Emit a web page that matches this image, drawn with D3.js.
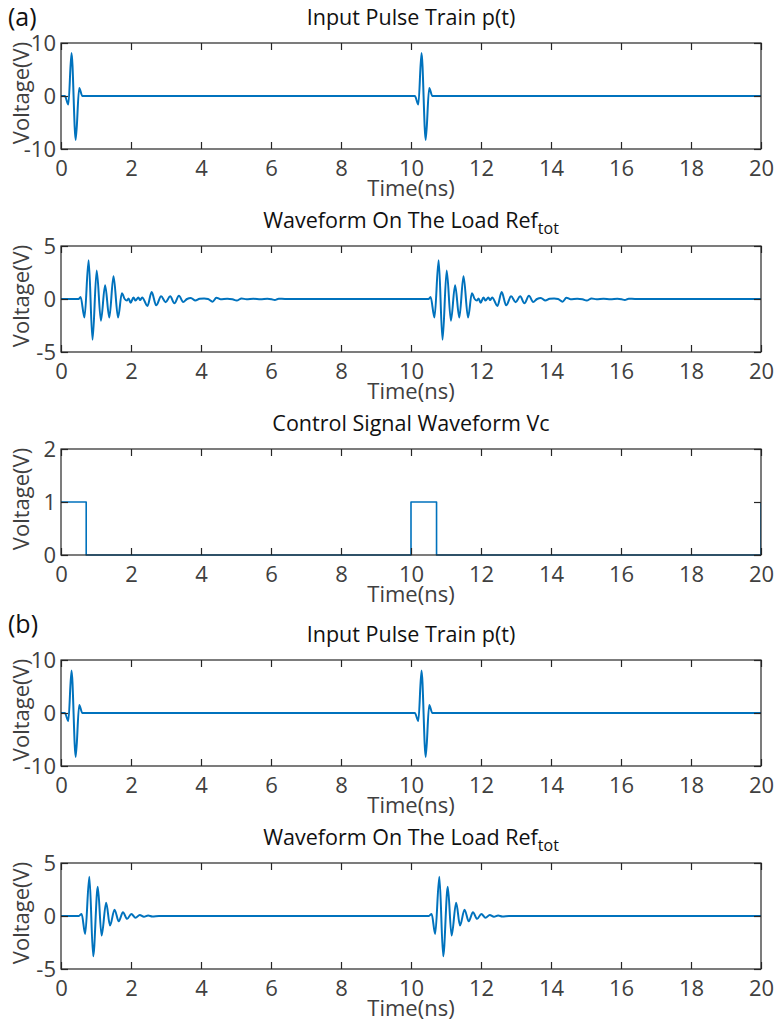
<!DOCTYPE html>
<html><head><meta charset="utf-8">
<script src="https://cdn.jsdelivr.net/npm/d3@7"></script>
<style>body{margin:0;background:#fff} svg{display:block} text{font-family:"Open Sans",sans-serif}</style>
</head><body><svg id="c" width="777" height="1027"></svg>
<script>
// ---------- data ----------
const xTickValues = [0,2,4,6,8,10,12,14,16,18,20];
const yTicksPulse = [-10,0,10];
const yTicksLoad = [-5,0,5];
const yTicksCtrl = [0,1,2];

// (a) input pulse train
const pulseA_t = [0,0.11,0.21,0.30,0.42,0.52,0.61, 10.11,10.21,10.30,10.42,10.52,10.61, 20];
const pulseA_v = [0,0,-1.6,8.1,-8.3,1.5,0, 0,-1.6,8.1,-8.3,1.5,0, 0];

// (a) waveform on the load
const loadA_t = [0,0.50,0.56,0.67,0.79,0.90,1.02,1.14,1.26,1.38,1.50,1.63,1.74,1.82,1.88,1.93,1.99,2.07,2.13,2.21,2.26,2.32,2.47,2.59,2.72,2.86,2.99,3.12,3.24,3.37,3.49,3.60,3.71,3.84,3.96,4.09,4.20,4.33,4.44,4.56,4.75,4.90,5.02,5.16,5.30,5.50,5.70,5.90,6.02,6.11,6.22,6.40,6.83,
  10.50,10.56,10.67,10.79,10.90,11.02,11.14,11.26,11.38,11.50,11.63,11.74,11.82,11.88,11.93,11.99,12.07,12.13,12.21,12.26,12.32,12.47,12.59,12.72,12.86,12.99,13.12,13.24,13.37,13.49,13.60,13.71,13.84,13.96,14.09,14.20,14.33,14.44,14.56,14.75,14.90,15.02,15.16,15.30,15.50,15.70,15.90,16.02,16.11,16.22,16.40,16.83,20];
const loadA_v = [0,0,0.2,-1.75,3.65,-3.85,2.7,-2.05,1.3,-1.75,2.15,-1.75,0.55,0.0,-0.15,0.05,-0.35,0.15,-0.15,0.15,-0.1,0.15,-0.65,0.65,-0.6,0.25,-0.3,0.25,-0.4,0.3,-0.28,0.0,0.1,-0.15,0.02,0.05,0.0,-0.25,0.12,-0.02,0.02,-0.03,-0.15,0.05,-0.03,0.02,-0.02,0.02,-0.03,-0.1,0.03,0,0,
  0,0.2,-1.75,3.65,-3.85,2.7,-2.05,1.3,-1.75,2.15,-1.75,0.55,0.0,-0.15,0.05,-0.35,0.15,-0.15,0.15,-0.1,0.15,-0.65,0.65,-0.6,0.25,-0.3,0.25,-0.4,0.3,-0.28,0.0,0.1,-0.15,0.02,0.05,0.0,-0.25,0.12,-0.02,0.02,-0.03,-0.15,0.05,-0.03,0.02,-0.02,0.02,-0.03,-0.1,0.03,0,0,0];

// (a) control signal
const ctrl_t = [0,0.72,0.72,10.0,10.0,10.73,10.73,20,20];
const ctrl_v = [1,1,0,0,1,1,0,0,1];

// (b) input pulse train
const pulseB_t = [0,0.11,0.21,0.30,0.42,0.52,0.61, 10.11,10.21,10.30,10.42,10.52,10.61, 20];
const pulseB_v = [0,0,-1.5,8.0,-8.3,1.5,0, 0,-1.5,8.0,-8.3,1.5,0, 0];

// (b) waveform on the load
const loadB_t = [0,0.51,0.59,0.69,0.81,0.92,1.05,1.16,1.29,1.40,1.53,1.65,1.77,1.89,2.01,2.13,2.25,2.37,2.49,2.61,2.80,
  10.51,10.59,10.69,10.81,10.92,11.05,11.16,11.29,11.40,11.53,11.65,11.77,11.89,12.01,12.13,12.25,12.37,12.49,12.61,12.80,20];
const loadB_v = [0,0,0.2,-1.7,3.7,-3.8,2.75,-1.85,1.25,-0.9,0.6,-0.5,0.35,-0.27,0.2,-0.17,0.1,-0.08,0.05,-0.04,0,
  0,0.2,-1.7,3.7,-3.8,2.75,-1.85,1.25,-0.9,0.6,-0.5,0.35,-0.27,0.2,-0.17,0.1,-0.08,0.05,-0.04,0,0];

const titles = ["Input Pulse Train p(t)", "Waveform On The Load Ref", "Control Signal Waveform Vc", "Input Pulse Train p(t)", "Waveform On The Load Ref"];
const titleSubs = ["", "tot", "", "", "tot"];
const xLabel = "Time(ns)";
const yLabel = "Voltage(V)";
const panelLetters = ["(a)", "(b)"];

// ---------- layout ----------
const svg = d3.select("#c");
const L = 61, R = 761, PH = 106;
const tops = [43, 246, 449, 660, 863];
const panels = [
  {t: pulseA_t, v: pulseA_v, dom: [-10,10], ticks: yTicksPulse, curve: d3.curveMonotoneX, w: 2},
  {t: loadA_t, v: loadA_v, dom: [-5,5], ticks: yTicksLoad, curve: d3.curveMonotoneX, w: 2},
  {t: ctrl_t, v: ctrl_v, dom: [0,2], ticks: yTicksCtrl, curve: d3.curveLinear, w: 1.6},
  {t: pulseB_t, v: pulseB_v, dom: [-10,10], ticks: yTicksPulse, curve: d3.curveMonotoneX, w: 2},
  {t: loadB_t, v: loadB_v, dom: [-5,5], ticks: yTicksLoad, curve: d3.curveMonotoneX, w: 2}
];
const axisCol = "#262626", tickCol = "#404040", lineCol = "#0072BD";
const fmt = d => String(d);

panels.forEach((p, i) => {
  const top = tops[i], bot = top + PH;
  const x = d3.scaleLinear().domain([0,20]).range([L,R]);
  const y = d3.scaleLinear().domain(p.dom).range([bot, top]);
  const g = svg.append("g");

  g.append("clipPath").attr("id","clip"+i).append("rect")
    .attr("x", L).attr("y", top-1).attr("width", R-L).attr("height", PH+2);

  const data = p.t.map((t,k)=>({t, v: p.v[k]}));
  g.append("path").datum(data)
    .attr("clip-path", `url(#clip${i})`)
    .attr("fill","none").attr("stroke", lineCol).attr("stroke-width", p.w)
    .attr("stroke-linejoin","round")
    .attr("d", d3.line().x(d=>x(d.t)).y(d=>y(d.v)).curve(p.curve));

  const ax = (sel)=>{ sel.attr("font-family", null).attr("font-size", null);
    sel.selectAll("text").attr("fill", tickCol).style("font-size","22px");
    sel.select(".domain").remove();
    sel.selectAll("line").attr("stroke", axisCol).attr("stroke-width",1.2); };
  g.append("g").attr("transform",`translate(0,${bot})`)
    .call(d3.axisBottom(x).tickValues(xTickValues).tickFormat(fmt).tickSizeInner(-7).tickSizeOuter(0).tickPadding(11))
    .call(ax);
  g.append("g").attr("transform",`translate(0,${top})`)
    .call(d3.axisTop(x).tickValues(xTickValues).tickSizeInner(-7).tickSizeOuter(0).tickFormat(""))
    .call(ax);
  g.append("g").attr("transform",`translate(${L},0)`)
    .call(d3.axisLeft(y).tickValues(p.ticks).tickFormat(fmt).tickSizeInner(-7).tickSizeOuter(0).tickPadding(5))
    .call(ax);
  g.append("g").attr("transform",`translate(${R},0)`)
    .call(d3.axisRight(y).tickValues(p.ticks).tickSizeInner(-7).tickSizeOuter(0).tickFormat(""))
    .call(ax);

  g.append("rect").attr("x", L).attr("y", top).attr("width", R-L).attr("height", PH)
    .attr("fill","none").attr("stroke", axisCol).attr("stroke-width",1.2);

  // title
  const tt = g.append("text").attr("x", (L+R)/2).attr("y", top-18)
    .attr("text-anchor","middle").attr("fill","#111").style("font-size","21.5px");
  tt.append("tspan").text(titles[i]);
  if (titleSubs[i]) tt.append("tspan").attr("dy", 6).style("font-size","16px").text(titleSubs[i]);

  // x label
  g.append("text").attr("x", (L+R)/2).attr("y", bot+47).attr("text-anchor","middle")
    .attr("fill", tickCol).style("font-size","22px").text(xLabel);
  // y label
  g.append("text").attr("transform",`translate(29,${(top+bot)/2 - 3}) rotate(-90)`)
    .attr("text-anchor","middle").attr("fill", tickCol).style("font-size","22px").text(yLabel);
});

svg.append("text").attr("x", 8).attr("y", 26).attr("fill","#111").style("font-size","25px").text(panelLetters[0]);
svg.append("text").attr("x", 8).attr("y", 633).attr("fill","#111").style("font-size","25px").text(panelLetters[1]);
</script></body></html>
